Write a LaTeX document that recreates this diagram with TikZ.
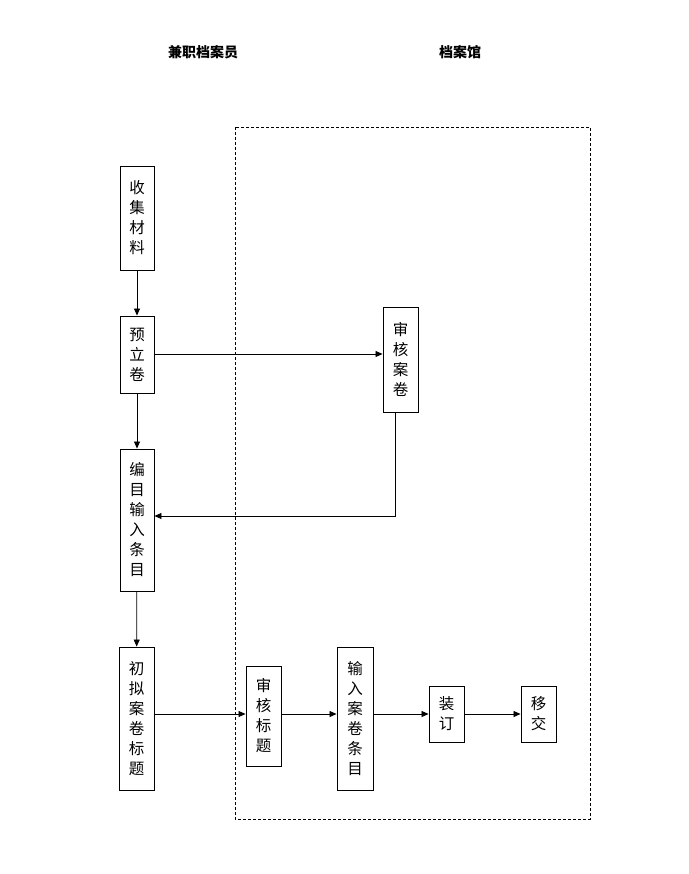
\documentclass[tikz,border=0pt]{standalone}
\usepackage{fontspec}
\setmainfont{Noto Sans CJK SC}
\usetikzlibrary{arrows.meta}
\begin{document}
\begin{tikzpicture}[x=1pt,y=-1pt,
  box/.style={draw,line width=0.9pt,rectangle,inner sep=0pt,align=center,
    font=\fontsize{15.5}{20}\selectfont},
  arr/.style={draw,line width=0.8pt,-{Triangle[length=7pt,width=6pt]}},
  hdr/.style={font=\fontsize{14}{16}\selectfont\bfseries},
  lane/.style={draw,line width=0.8pt,dash pattern=on 3pt off 2pt}]
\useasboundingbox (0,0) rectangle (688,874);
\node[hdr] (h1) at (203,52) {兼职档案员};
\node[hdr] (h2) at (460,52) {档案馆};
\draw[lane] (235,127) rectangle (590,819);
\node[box,minimum width=34pt,minimum height=104pt] (collect) at (137,218) {收\\集\\材\\料};
\node[box,minimum width=34pt,minimum height=77pt] (yuli) at (137,354.5) {预\\立\\卷};
\node[box,minimum width=34pt,minimum height=142pt] (bianmu) at (137,520) {编\\目\\输\\入\\条\\目};
\node[box,minimum width=35pt,minimum height=143pt] (chuni) at (136.5,718.5) {初\\拟\\案\\卷\\标\\题};
\node[box,minimum width=35pt,minimum height=105pt] (shenan) at (400.5,359.5) {审\\核\\案\\卷};
\node[box,minimum width=35pt,minimum height=100pt] (shenbt) at (263.5,716) {审\\核\\标\\题};
\node[box,minimum width=36pt,minimum height=143pt] (shuru) at (355,718.5) {输\\入\\案\\卷\\条\\目};
\node[box,minimum width=35pt,minimum height=56pt] (zhuang) at (446.5,714) {装\\订};
\node[box,minimum width=35pt,minimum height=56pt] (yijiao) at (538.5,714) {移\\交};
\draw[arr] (collect) -- (yuli);
\draw[arr] (yuli) -- (bianmu);
\draw[arr] (bianmu) -- (chuni);
\coordinate (r1) at (0,354);
\draw[arr] (yuli.east |- r1) -- (shenan.west |- r1);
\coordinate (r2) at (395,516);
\draw[arr] (shenan.south -| r2) -- (r2) -- (bianmu.east |- r2);
\draw[arr] (chuni.east |- zhuang.west) -- (shenbt.west |- zhuang.west);
\draw[arr] (shenbt.east |- zhuang.west) -- (shuru.west |- zhuang.west);
\draw[arr] (shuru.east |- zhuang.west) -- (zhuang.west);
\draw[arr] (zhuang) -- (yijiao);
\end{tikzpicture}
\end{document}
